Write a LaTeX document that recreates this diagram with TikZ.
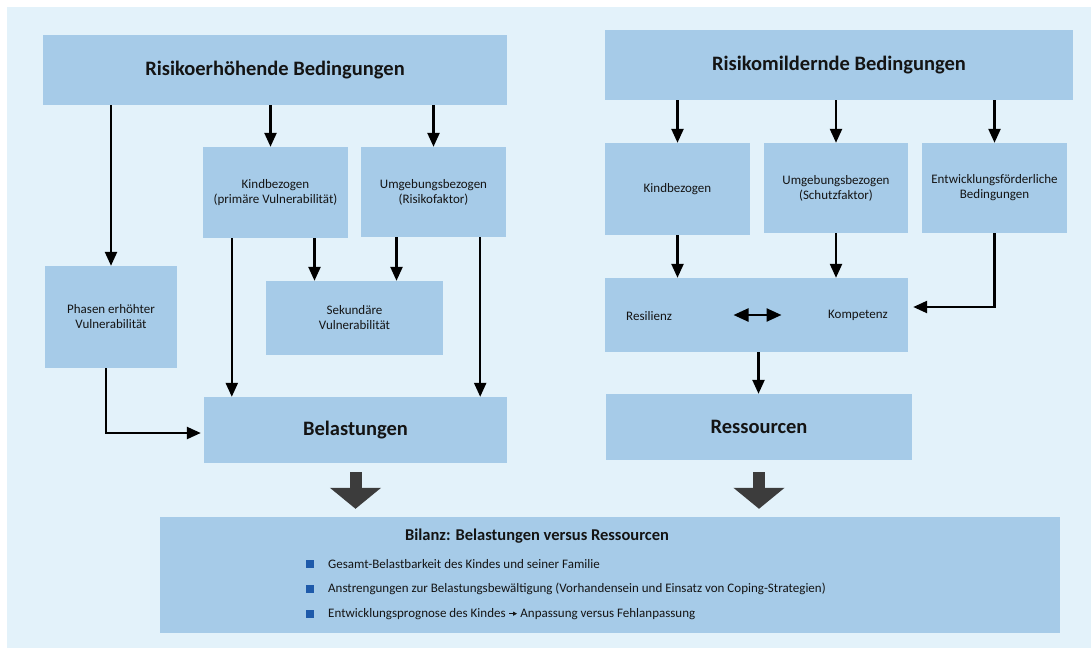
\documentclass[tikz,border=0pt]{standalone}
\usepackage{fontspec}
\setmainfont{Carlito}
\usetikzlibrary{arrows.meta}

\definecolor{bgblue}{RGB}{227,242,250}
\definecolor{boxblue}{RGB}{166,203,232}
\definecolor{bulletblue}{RGB}{30,90,170}
\definecolor{darkarrow}{RGB}{60,60,60}
\definecolor{textcol}{RGB}{20,20,20}

\begin{document}
\begin{tikzpicture}[x=1pt,y=-1pt,
 box/.style={fill=boxblue, inner sep=0pt, align=center, text=textcol,
  font=\fontsize{13}{15}\selectfont},
 headbox/.style={box, font=\bfseries\fontsize{20.5}{24}\selectfont},
 label/.style={inner sep=0pt, text=textcol, font=\fontsize{13}{15}\selectfont},
 arr/.style={line width=2.4pt, -{Triangle[length=14pt,width=12pt]}},
 dblarr/.style={line width=2.4pt, {Triangle[length=15pt,width=13pt]}-{Triangle[length=15pt,width=13pt]}},
 bigarrow/.style={darkarrow, line width=12pt, -{Triangle[length=21pt,width=50pt]}},
 bullet/.style={fill=bulletblue, minimum size=8pt, inner sep=0pt}
]
 \useasboundingbox (0,0) rectangle (1091,648);
 \fill[bgblue] (7,7) rectangle (1091,648);

 % left side
 \node[headbox, minimum width=464pt, minimum height=70pt] (rh) at (275,70) {Risikoerhöhende Bedingungen};
 \node[box, minimum width=145pt, minimum height=91pt] (kp) at (275.5,192.5) {Kindbezogen\\(primäre Vulnerabilität)};
 \node[box, minimum width=145pt, minimum height=90pt] (ur) at (433.5,192) {Umgebungsbezogen\\(Risikofaktor)};
 \node[box, minimum width=132pt, minimum height=102pt] (ph) at (111,317) {Phasen erhöhter\\Vulnerabilität};
 \node[box, minimum width=177pt, minimum height=74pt] (sv) at (354.5,318) {Sekundäre\\Vulnerabilität};
 \node[headbox, minimum width=303pt, minimum height=66pt] (bel) at (355.5,430) {Belastungen};

 % right side
 \node[headbox, minimum width=468pt, minimum height=70pt] (rm) at (839,65) {Risikomildernde Bedingungen};
 \node[box, minimum width=145pt, minimum height=92pt] (kr) at (677.5,189) {Kindbezogen};
 \node[box, minimum width=144pt, minimum height=90pt] (us) at (836,188) {Umgebungsbezogen\\(Schutzfaktor)};
 \node[box, minimum width=145pt, minimum height=90pt] (ef) at (994.5,188) {Entwicklungsförderliche\\Bedingungen};
 \node[box, minimum width=303pt, minimum height=74pt] (rk) at (756.5,315) {};
 \node[label, anchor=west] (resl) at (626,316) {Resilienz};
 \node[label, anchor=west] (komp) at (828,315) {Kompetenz};
 \node[headbox, minimum width=306pt, minimum height=66pt] (res) at (759,427) {Ressourcen};

 % Bilanz
 \node[box, minimum width=900pt, minimum height=116pt] (bil) at (610,575) {};
 \node[label, font=\bfseries\fontsize{16.5}{19}\selectfont] (biltitle) at (537,536) {Bilanz: Belastungen versus Ressourcen};
 \node[bullet] (b1) at (310,564) {};
 \node[bullet] (b2) at (310,589) {};
 \node[bullet] (b3) at (310,614) {};
 \node[label, anchor=west] (t1) at (328,564) {Gesamt-Belastbarkeit des Kindes und seiner Familie};
 \node[label, anchor=west] (t2) at (328,589) {Anstrengungen zur Belastungsbewältigung (Vorhandensein und Einsatz von Coping-Strategien)};
 \node[label, anchor=west] (t3) at (328,614) {Entwicklungsprognose des Kindes
  \tikz[baseline=-0.6ex]\draw[line width=0.8pt,-{Triangle[length=4pt,width=4pt]}] (0,0) -- (8pt,0);
  Anpassung versus Fehlanpassung};

 % connectors left
 \draw[arr] (rh.south -| ph) -- (ph.north);
 \draw[arr] ([xshift=-5pt]kp.north |- rh.south) -- ([xshift=-5pt]kp.north);
 \draw[arr] (rh.south -| ur) -- (ur.north);
 \draw[arr] ([xshift=29pt]kp.south west) -- ([xshift=29pt]kp.south west |- bel.north);
 \draw[arr] ([xshift=-40pt]sv.north |- kp.south) -- ([xshift=-40pt]sv.north);
 \draw[arr] ([xshift=42pt]sv.north |- ur.south) -- ([xshift=42pt]sv.north);
 \draw[arr] ([xshift=-26pt]ur.south east) -- ([xshift=-26pt]ur.south east |- bel.north);
 \draw[arr] ([xshift=-5pt]ph.south) |- ([xshift=-3pt,yshift=-3pt]bel.west);

 % connectors right
 \draw[arr] (rm.south -| kr) -- (kr.north);
 \draw[arr] (rm.south -| us) -- (us.north);
 \draw[arr] (rm.south -| ef) -- (ef.north);
 \draw[arr] (kr.south) -- (kr.south |- rk.north);
 \draw[arr] (us.south) -- (us.south |- rk.north);
 \draw[arr] (ef.south) |- ([xshift=5pt,yshift=8pt]rk.east);
 \draw[dblarr] ([xshift=-23pt]rk.center) -- ([xshift=25pt]rk.center);
 \draw[arr] ([xshift=2pt]rk.south) -- ([xshift=2pt]rk.south |- res.north);

 % into the balance
 \draw[bigarrow] ([yshift=-9pt]bel.south) -- ([yshift=8pt]bel.south |- bil.north);
 \draw[bigarrow] ([yshift=-12pt]res.south) -- ([yshift=8pt]res.south |- bil.north);
\end{tikzpicture}
\end{document}
